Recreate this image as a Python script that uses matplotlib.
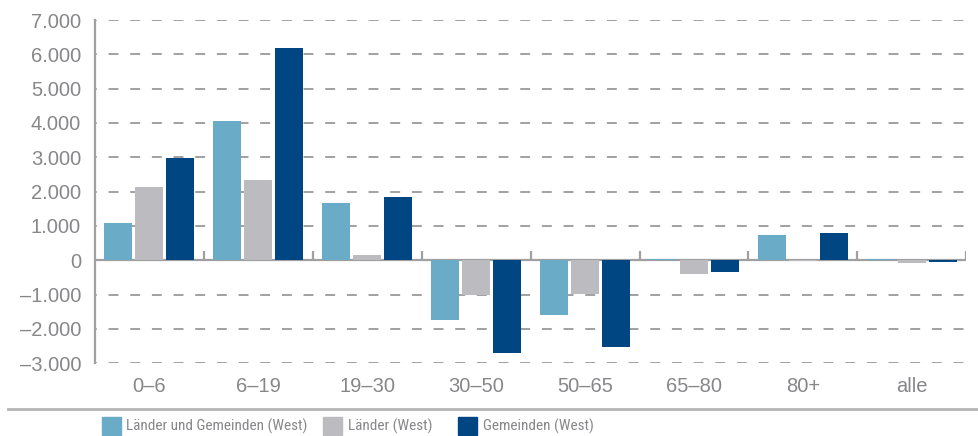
import numpy as np
import matplotlib
matplotlib.use('Agg')
import matplotlib.pyplot as plt
from matplotlib.patches import Rectangle
from matplotlib.lines import Line2D

# Age groups and values (change per age group)
groups = ['0–6', '6–19', '19–30', '30–50', '50–65', '65–80', '80+', 'alle']
laender_gemeinden = [1080, 4050, 1660, -1750, -1600, 30, 730, 30]
laender = [2130, 2330, 150, -1000, -990, -390, -20, -70]
gemeinden = [2970, 6180, 1840, -2700, -2530, -340, 800, -50]

series_names = ['Länder und Gemeinden (West)', 'Länder (West)', 'Gemeinden (West)']
colors = ['#6aabc8', '#bcbcc0', '#004683']

y_ticks = [-3000, -2000, -1000, 0, 1000, 2000, 3000, 4000, 5000, 6000, 7000]
y_labels = ['–3.000', '–2.000', '–1.000', '0', '1.000', '2.000', '3.000',
            '4.000', '5.000', '6.000', '7.000']

plt.rcParams['font.family'] = ['Liberation Sans', 'DejaVu Sans']
narrow = ['Roboto Condensed', 'Liberation Sans Narrow', 'Arial Narrow', 'Liberation Sans']
text_color = '#87878a'
line_color = '#a0a0a2'

fig = plt.figure(figsize=(9.79, 4.36), dpi=100)
ax = fig.add_axes([0.097, 0.167, 0.89, 0.787])

x = np.arange(len(groups))
width = 0.257
step = 0.284
for i, (vals, c) in enumerate(zip([laender_gemeinden, laender, gemeinden], colors)):
    ax.bar(x + (i - 1) * step, vals, width, color=c, zorder=3)

ax.set_xlim(-0.5, len(groups) - 0.5)
ax.set_ylim(-3000, 7000)

# dashed grid lines (not at zero)
for t in y_ticks:
    if t != 0:
        ax.axhline(t, color='#9a9a9c', lw=1.3, linestyle=(4.5, (5.5, 6.5)), zorder=1)
ax.axhline(0, color=line_color, lw=1.6, zorder=2)

# small ticks at group boundaries on the zero line
for b in np.arange(0.5, len(groups), 1.0):
    ax.plot([b, b], [0, 260], color=line_color, lw=1.6, zorder=2,
            solid_capstyle='butt')

for s in ['top', 'right', 'bottom']:
    ax.spines[s].set_visible(False)
ax.spines['left'].set_color(line_color)
ax.spines['left'].set_linewidth(1.6)

ax.set_yticks(y_ticks)
ax.set_yticklabels(y_labels)
ax.set_xticks(x)
ax.set_xticklabels(groups)
ax.tick_params(axis='y', length=0, pad=10, labelsize=14.5, labelcolor=text_color)
ax.tick_params(axis='x', length=0, pad=10, labelsize=14.5, labelcolor=text_color)

# separator line above legend
fig.add_artist(Line2D([0.008, 1.0], [0.062, 0.062], color='#b4b4b6', lw=2.0))

# legend, placed by hand
patch_x = [102, 323, 458]
text_x = [126, 348, 483]
W, H = 979, 436
for px, tx, name, c in zip(patch_x, text_x, series_names, colors):
    fig.add_artist(Rectangle((px / W, 1 - 435 / H), 19 / W, 18 / H,
                             transform=fig.transFigure, color=c))
    fig.text(tx / W, 1 - 426 / H, name, family=narrow, fontsize=11,
             color=text_color, va='center', ha='left')

fig.savefig('out.png', dpi=100)
